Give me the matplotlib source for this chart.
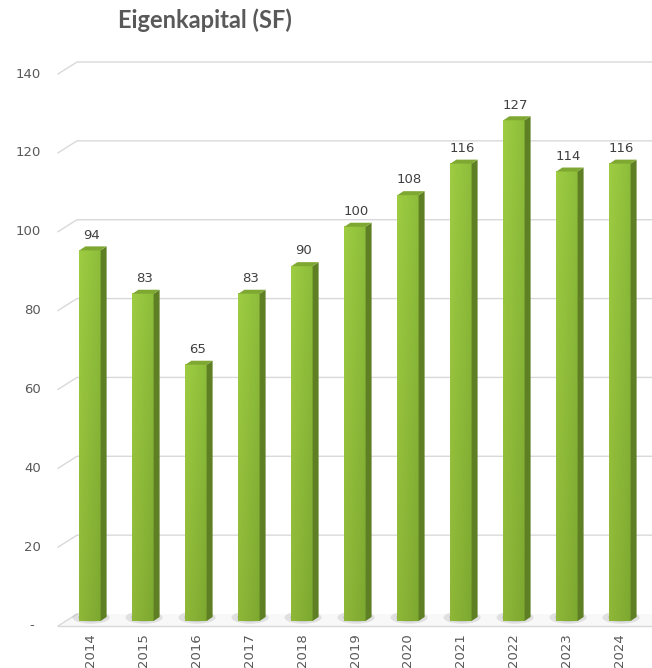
import numpy as np
import matplotlib
matplotlib.use('Agg')
import matplotlib.pyplot as plt
from matplotlib.patches import Polygon, Ellipse

years = ['2014', '2015', '2016', '2017', '2018', '2019', '2020', '2021', '2022', '2023', '2024']
values = [94, 83, 65, 83, 90, 100, 108, 116, 127, 114, 116]
yticks = [0, 20, 40, 60, 80, 100, 120, 140]
ytick_labels = ['-', '20', '40', '60', '80', '100', '120', '140']

W, H = 652, 668
fig = plt.figure(figsize=(W / 100, H / 100), dpi=100)
# axes: x pixel 58..652, y pixel 626 (0) .. 74 (140)
ax = fig.add_axes([58 / W, (H - 626) / H, 594 / W, 552 / H])
ax.set_xlim(-0.604, 10.604)
ax.set_ylim(0, 140)
for s in ax.spines.values():
    s.set_visible(False)

# pixel -> data conversion
px_x = 11.208 / 594
px_y = 140 / 552

grid_c = '#d9d9d9'
# back wall depth offset
wdx, wdy = 19 * px_x, 12 * px_y
x0, x1 = ax.get_xlim()
for v in yticks[1:]:
    ax.plot([x0, x0 + wdx, x1 + 1], [v, v + wdy, v + wdy], color=grid_c, lw=1.0,
            clip_on=False, zorder=1)

# floor
floor = Polygon([[x0, 0], [x1 + 1, 0], [x1 + 1, wdy], [x0 + wdx, wdy]],
                closed=True, facecolor='#f8f8f8', edgecolor='none', zorder=1, clip_on=False)
ax.add_patch(floor)
ax.plot([x0, x1 + 1], [0, 0], color=grid_c, lw=1.0, clip_on=False, zorder=2)
ax.plot([x0, x0 + wdx], [0, wdy], color=grid_c, lw=1.0, clip_on=False, zorder=2)

# bars (pseudo 3d)
base = 5 * px_y
hw = 0.2
ddx, ddy = 6 * px_x, 4 * px_y
gx = np.linspace(0, 1, 40)
gy = np.linspace(0, 1, 80)[:, None]
for i, v in enumerate(values):
    left, right = i - hw, i + hw
    top = base + v
    # shadow on floor
    for k, a in [(1.0, 0.25), (0.7, 0.35)]:
        ax.add_patch(Ellipse((i + 0.02, base + 0.9), (2 * hw + 0.3) * k, 3.2 * k,
                             facecolor='#9a9a9a', edgecolor='none', alpha=a, zorder=2))
    # front face gradient
    r = 0.62 - 0.07 * gx[None, :] - 0.06 * (1 - gy)
    g = 0.80 - 0.06 * gx[None, :] - 0.08 * (1 - gy)
    b = 0.26 - 0.03 * gx[None, :] - 0.04 * (1 - gy)
    img = np.dstack([r, g, b])
    ax.imshow(img, extent=[left, right, base, top], origin='lower', aspect='auto',
              zorder=3, interpolation='bilinear')
    side = Polygon([[right, base], [right + ddx, base + ddy], [right + ddx, top + ddy], [right, top]],
                   closed=True, facecolor='#5f7f24', edgecolor='none', zorder=3)
    ax.add_patch(side)
    topf = Polygon([[left, top], [right, top], [right + ddx, top + ddy], [left + ddx, top + ddy]],
                   closed=True, facecolor='#7fa833', edgecolor='none', zorder=3)
    ax.add_patch(topf)
    ax.text(i + 0.03, top + ddy + 1.2, str(v), ha='center', va='bottom', fontsize=9.5,
            color='#404040', zorder=4)

ax.set_xlim(x0, x1)
ax.set_ylim(0, 140)

ax.set_yticks(yticks)
ax.set_yticklabels([])
for v, lab in zip(yticks, ytick_labels):
    if v == 0:
        ax.text(-0.604 - 26 * px_x, v, lab, ha='center', va='center', fontsize=9.5, color='#595959')
    else:
        ax.text(-0.604 - 17 * px_x, v, lab, ha='right', va='center', fontsize=9.5, color='#595959')
ax.tick_params(axis='y', length=0)

ax.set_xticks(range(len(years)))
ax.set_xticklabels(years, rotation=90, fontsize=9.5, color='#595959')
ax.tick_params(axis='x', length=0, pad=5)

fig.text(205 / W, 1 - 20 / H, 'Eigenkapital (SF)', ha='center', va='center',
         fontsize=17, fontweight='bold', color='#595959', family=['Lato', 'DejaVu Sans'])

fig.savefig('out.png', dpi=100)
